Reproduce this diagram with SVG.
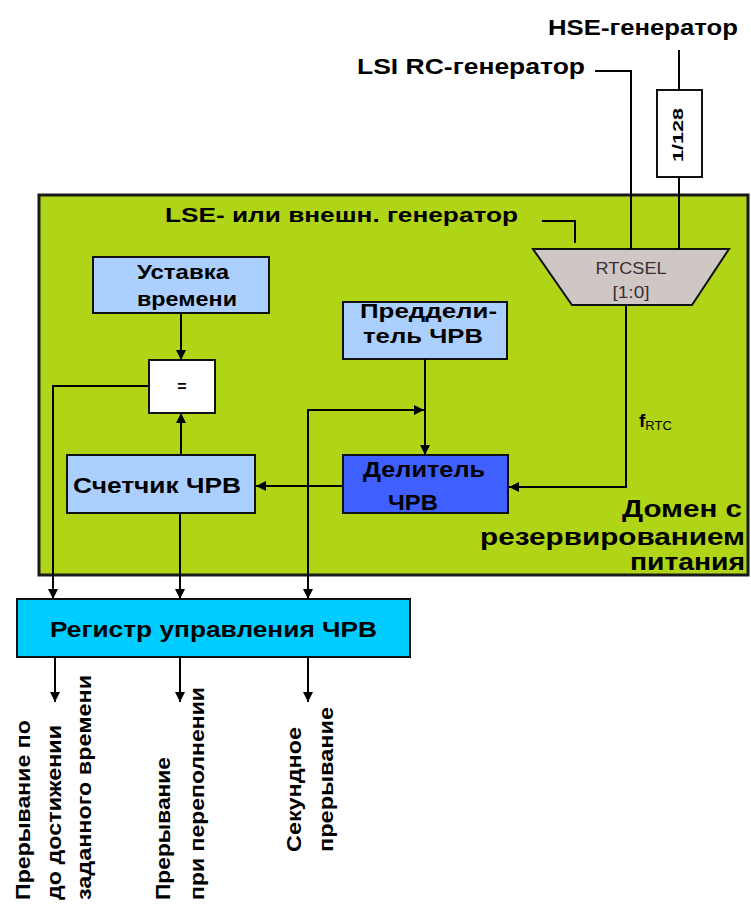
<svg xmlns="http://www.w3.org/2000/svg" width="751" height="904" viewBox="0 0 751 904">
<defs>
<marker id="ah" viewBox="0 0 10 10" refX="10" refY="5" markerWidth="10" markerHeight="10" markerUnits="userSpaceOnUse" orient="auto-start-reverse">
<path d="M0,0 L10,5 L0,10 Z" fill="#000"/>
</marker>
<style>
.t{font-family:"Liberation Sans",Arial,sans-serif;font-weight:bold;fill:#000}
.box{stroke:#111;stroke-width:2}
.ln{fill:none;stroke:#000;stroke-width:2}
.ar{fill:none;stroke:#000;stroke-width:2;marker-end:url(#ah)}
</style>
</defs>
<rect width="751" height="904" fill="#fff"/>

<g id="domain">
<rect x="39" y="195" width="709" height="380" fill="#b0d416" stroke="#1a1a1a" stroke-width="3"/>
<text class="t" font-size="24" x="742" y="517" text-anchor="end" textLength="120" lengthAdjust="spacingAndGlyphs">Домен с</text>
<text class="t" font-size="24" x="745" y="545" text-anchor="end" textLength="265" lengthAdjust="spacingAndGlyphs">резервированием</text>
<text class="t" font-size="24" x="745" y="570" text-anchor="end" textLength="115" lengthAdjust="spacingAndGlyphs">питания</text>
</g>

<g id="labels">
<text class="t" font-size="22" x="548" y="35" textLength="190" lengthAdjust="spacingAndGlyphs">HSE-генератор</text>
<text class="t" font-size="22" x="357" y="74" textLength="228" lengthAdjust="spacingAndGlyphs">LSI RC-генератор</text>
<text class="t" font-size="21" x="165" y="222" textLength="353" lengthAdjust="spacingAndGlyphs">LSE- или внешн. генератор</text>
<text class="t" font-size="19" x="639" y="427">f<tspan font-size="13" font-weight="normal" dy="3">RTC</tspan></text>
</g>

<g id="div128">
<rect x="657" y="90" width="45" height="87" fill="#fff" class="box"/>
<text font-family="Liberation Sans,Arial,sans-serif" font-weight="bold" font-size="15" transform="translate(683,135) rotate(-90)" text-anchor="middle" textLength="54" lengthAdjust="spacingAndGlyphs">1/128</text>
</g>

<g id="rtcsel">
<path d="M533,249 L729,249 L692,305 L572,305 Z" fill="#cfc7c3" stroke="#111" stroke-width="2"/>
<text font-family="Liberation Sans,Arial,sans-serif" font-size="16" fill="#3a2f36" x="631" y="274" text-anchor="middle" textLength="71" lengthAdjust="spacingAndGlyphs">RTCSEL</text>
<text font-family="Liberation Sans,Arial,sans-serif" font-size="16" fill="#3a2f36" x="631" y="298" text-anchor="middle" textLength="37" lengthAdjust="spacingAndGlyphs">[1:0]</text>
</g>

<g id="ustavka">
<rect x="93" y="257" width="176" height="56" fill="#abcffe" class="box"/>
<text class="t" font-size="21" x="183" y="279" text-anchor="middle" textLength="92" lengthAdjust="spacingAndGlyphs">Уставка</text>
<text class="t" font-size="21" x="187" y="306" text-anchor="middle" textLength="100" lengthAdjust="spacingAndGlyphs">времени</text>
</g>

<g id="cmp">
<rect x="149" y="360" width="66" height="53" fill="#fff" class="box"/>
<text font-family="Liberation Sans,Arial,sans-serif" font-weight="bold" font-size="16" x="182" y="392" text-anchor="middle">=</text>
</g>

<g id="prescaler">
<rect x="343" y="302" width="164" height="57" fill="#abcffe" class="box"/>
<text class="t" font-size="21" x="360" y="318" textLength="137" lengthAdjust="spacingAndGlyphs">Преддели-</text>
<text class="t" font-size="21" x="363" y="343" textLength="120" lengthAdjust="spacingAndGlyphs">тель ЧРВ</text>
</g>

<g id="counter">
<rect x="67" y="455" width="188" height="58" fill="#abcffe" class="box"/>
<text class="t" font-size="22" x="73" y="493" textLength="168" lengthAdjust="spacingAndGlyphs">Счетчик ЧРВ</text>
</g>

<g id="divider">
<rect x="343" y="455" width="165" height="58" fill="#3f5fff" class="box"/>
<text class="t" font-size="22" x="363" y="477" textLength="122" lengthAdjust="spacingAndGlyphs">Делитель</text>
<text class="t" font-size="22" x="388" y="510" textLength="50" lengthAdjust="spacingAndGlyphs">ЧРВ</text>
</g>

<g id="register">
<rect x="17" y="599" width="393" height="58" fill="#00ccff" class="box"/>
<text class="t" font-size="22" x="50" y="637" textLength="327" lengthAdjust="spacingAndGlyphs">Регистр управления ЧРВ</text>
</g>

<g id="outputs">
<text class="t" font-size="20" transform="translate(30,900) rotate(-90)" textLength="180" lengthAdjust="spacingAndGlyphs">Прерывание по</text>
<text class="t" font-size="20" transform="translate(61,900) rotate(-90)" textLength="175" lengthAdjust="spacingAndGlyphs">до достижении</text>
<text class="t" font-size="20" transform="translate(91,900) rotate(-90)" textLength="225" lengthAdjust="spacingAndGlyphs">заданного времени</text>
<text class="t" font-size="20" transform="translate(170,900) rotate(-90)" textLength="143" lengthAdjust="spacingAndGlyphs">Прерывание</text>
<text class="t" font-size="20" transform="translate(204,900) rotate(-90)" textLength="213" lengthAdjust="spacingAndGlyphs">при переполнении</text>
<text class="t" font-size="20" transform="translate(301,852) rotate(-90)" textLength="125" lengthAdjust="spacingAndGlyphs">Секундное</text>
<text class="t" font-size="20" transform="translate(333,852) rotate(-90)" textLength="145" lengthAdjust="spacingAndGlyphs">прерывание</text>
</g>

<g id="connectors">
<polyline class="ln" points="595,71 631,71 631,249"/>
<line class="ln" x1="679" y1="50" x2="679" y2="90"/>
<line class="ln" x1="679" y1="177" x2="679" y2="249"/>
<polyline class="ln" points="542,221 575,221 575,243"/>
<polyline class="ar" points="626,305 626,487 509,487"/>
<line class="ar" x1="181" y1="313" x2="181" y2="360"/>
<line class="ar" x1="181" y1="455" x2="181" y2="413"/>
<polyline class="ar" points="149,386 53,386 53,599"/>
<line class="ar" x1="425" y1="359" x2="425" y2="455"/>
<polyline class="ar" points="308,599 308,410 424,410" marker-start="url(#ah)"/>
<line class="ar" x1="343" y1="486" x2="256" y2="486"/>
<line class="ar" x1="180" y1="513" x2="180" y2="599"/>
<line class="ar" x1="55" y1="657" x2="55" y2="702"/>
<line class="ar" x1="180" y1="657" x2="180" y2="702"/>
<line class="ar" x1="308" y1="657" x2="308" y2="702"/>
</g>
</svg>
